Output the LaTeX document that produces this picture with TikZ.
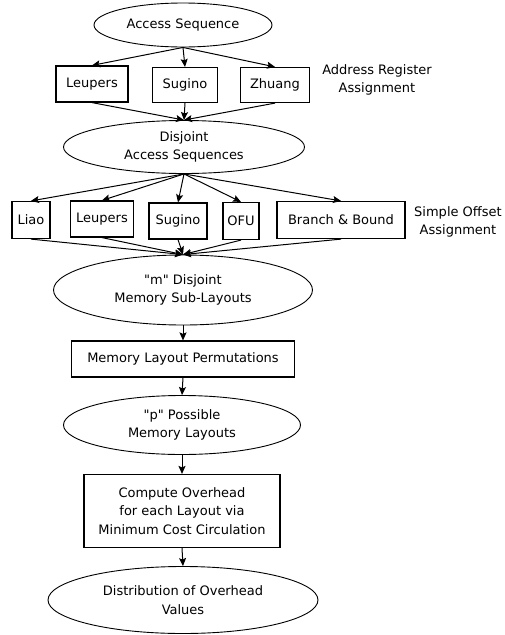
\documentclass[tikz,border=0pt]{standalone}
\usepackage{fontspec}
\setmainfont{DejaVu Sans}
\usetikzlibrary{shapes.geometric,arrows.meta}
\begin{document}
\begin{tikzpicture}[x=1pt,y=-1pt]
        \tikzset{
        blob/.style={ellipse, draw, line width=0.9pt, inner sep=0pt, align=center,
        font=\fontsize{13}{18.5}\selectfont},
        algo/.style={rectangle, draw, line width=1.2pt, inner sep=0pt, align=center,
        font=\fontsize{13}{18.5}\selectfont},
        lbl/.style={align=center, inner sep=0pt, font=\fontsize{13}{18.5}\selectfont},
        flow/.style={-{Stealth[length=8pt,width=7pt,inset=1.5pt]}, line width=1pt}
        }
        \useasboundingbox (0,0) rectangle (504,635);
        \node[blob, minimum width=178, minimum height=44] (acc) at (183,25) {Access Sequence};
        \node[algo, minimum width=72, minimum height=36] (ar1) at (92,84) {Leupers};
        \node[algo, minimum width=65, minimum height=35] (ar2) at (185,85) {Sugino};
        \node[algo, minimum width=69, minimum height=35] (ar3) at (275,85) {Zhuang};
        \node[lbl] (arlbl) at (377,80) {Address Register\\Assignment};
        \node[blob, minimum width=241, minimum height=53] (dis) at (184,147) {Disjoint\\Access Sequences};

        \node[algo, minimum width=38, minimum height=37] (so1) at (31,220) {Liao};
        \node[algo, minimum width=63, minimum height=36] (so2) at (102,219) {Leupers};
        \node[algo, minimum width=58, minimum height=36] (so3) at (178,221) {Sugino};
        \node[algo, minimum width=36, minimum height=37] (so4) at (241,221) {OFU};
        \node[algo, minimum width=128, minimum height=37] (so5) at (341,220) {Branch \& Bound};
        \node[lbl] (solbl) at (458,222) {Simple Offset\\Assignment};
        \node[blob, minimum width=259, minimum height=70] (msub) at (183,290) {\textquotedbl m\textquotedbl{} Disjoint\\Memory Sub-Layouts};

        \node[algo, minimum width=223, minimum height=36] (perm) at (183,359) {Memory Layout Permutations};
        \node[blob, minimum width=237, minimum height=59] (pmem) at (182,425) {\textquotedbl p\textquotedbl{} Possible\\Memory Layouts};
        \node[algo, minimum width=196, minimum height=73] (cost) at (182,511) {Compute Overhead\\for each Layout via\\Minimum Cost Circulation};
        \node[blob, minimum width=270, minimum height=67] (dist) at (183,600) {Distribution of Overhead\\Values};

        \draw[flow] (acc.south) -- (ar1.north);
        \draw[flow] (acc.south) -- (ar2.north);
        \draw[flow] (acc.south) -- (ar3.north);
        \draw[flow] (ar1.south) -- (dis.north);
        \draw[flow] (ar2.south) -- (dis.north);
        \draw[flow] (ar3.south) -- (dis.north);

        \draw[flow] (dis.south) -- (so1.north);
        \draw[flow] (dis.south) -- (so2.north);
        \draw[flow] (dis.south) -- (so3.north);
        \draw[flow] (dis.south) -- (so4.north);
        \draw[flow] (dis.south) -- (so5.north);
        \draw[flow] (so1.south) -- (msub.north);
        \draw[flow] (so2.south) -- (msub.north);
        \draw[flow] (so3.south) -- (msub.north);
        \draw[flow] (so4.south) -- (msub.north);
        \draw[flow] (so5.south) -- (msub.north);

        \draw[flow] (msub.south) -- (perm.north);
        \draw[flow] (perm.south) -- (pmem.north);
        \draw[flow] (pmem.south) -- (cost.north);
        \draw[flow] (cost.south) -- (dist.north);
        \end{tikzpicture}
\end{document}
